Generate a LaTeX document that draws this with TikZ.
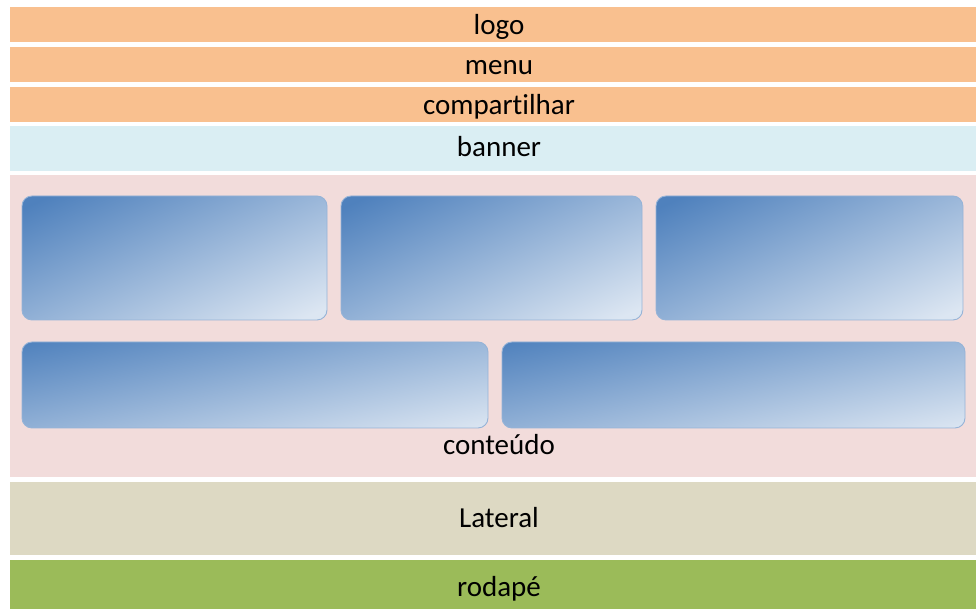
\documentclass[tikz,border=0pt]{standalone}
\usepackage{fontspec}
\setmainfont[Ligatures=NoCommon]{Carlito}
\definecolor{orangeband}{HTML}{F9C08F}
\definecolor{bannerband}{HTML}{DAEEF3}
\definecolor{pinkband}{HTML}{F2DCDB}
\definecolor{lateralband}{HTML}{DDD9C3}
\definecolor{greenband}{HTML}{9BBB59}
\definecolor{boxdark}{HTML}{4F81BD}
\definecolor{boxlight}{HTML}{DCE6F2}
\definecolor{boxedge}{HTML}{95B3D7}
\pgfdeclareverticalshading{cardshade}{100bp}{color(0bp)=(boxlight); color(20bp)=(boxlight); color(80bp)=(boxdark); color(100bp)=(boxdark)}
\begin{document}
\begin{tikzpicture}[x=1bp,y=1bp,
  lbl/.style={anchor=base,inner sep=0pt,font=\fontsize{29bp}{34bp}\selectfont,text=black},
  card/.style={rounded corners=10bp,draw=boxedge,line width=0.9bp,shading=cardshade,shading angle=25},
  widecard/.style={card,shading angle=12}]
\useasboundingbox (0,0) rectangle (976,609);
\fill[white] (0,0) rectangle (976,609);
% bands
\fill[orangeband] (10,567) rectangle (976,602);
\fill[orangeband] (10,527) rectangle (976,562);
\fill[orangeband] (10,487) rectangle (976,522);
\fill[bannerband] (10,438) rectangle (976,483);
\fill[pinkband] (10,132) rectangle (976,434);
\fill[lateralband] (10,54) rectangle (976,127);
\fill[greenband] (10,0) rectangle (976,49);
% cards
\shade[card] (22,289) rectangle (327,413);
\shade[card] (341,289) rectangle (642,413);
\shade[card] (656,289) rectangle (963,413);
\shade[widecard] (22,181) rectangle (488,267);
\shade[widecard] (502,181) rectangle (965,267);
% labels
\node[lbl] (logo) at (499,574) {logo};
\node[lbl] (menu) at (499,534) {menu};
\node[lbl] (comp) at (499,494) {compartilhar};
\node[lbl] (banner) at (499,452) {banner};
\node[lbl] (cont) at (499,154) {conteúdo};
\node[lbl] (lat) at (499,81) {Lateral};
\node[lbl] (rod) at (499,12) {rodapé};
\end{tikzpicture}
\end{document}
